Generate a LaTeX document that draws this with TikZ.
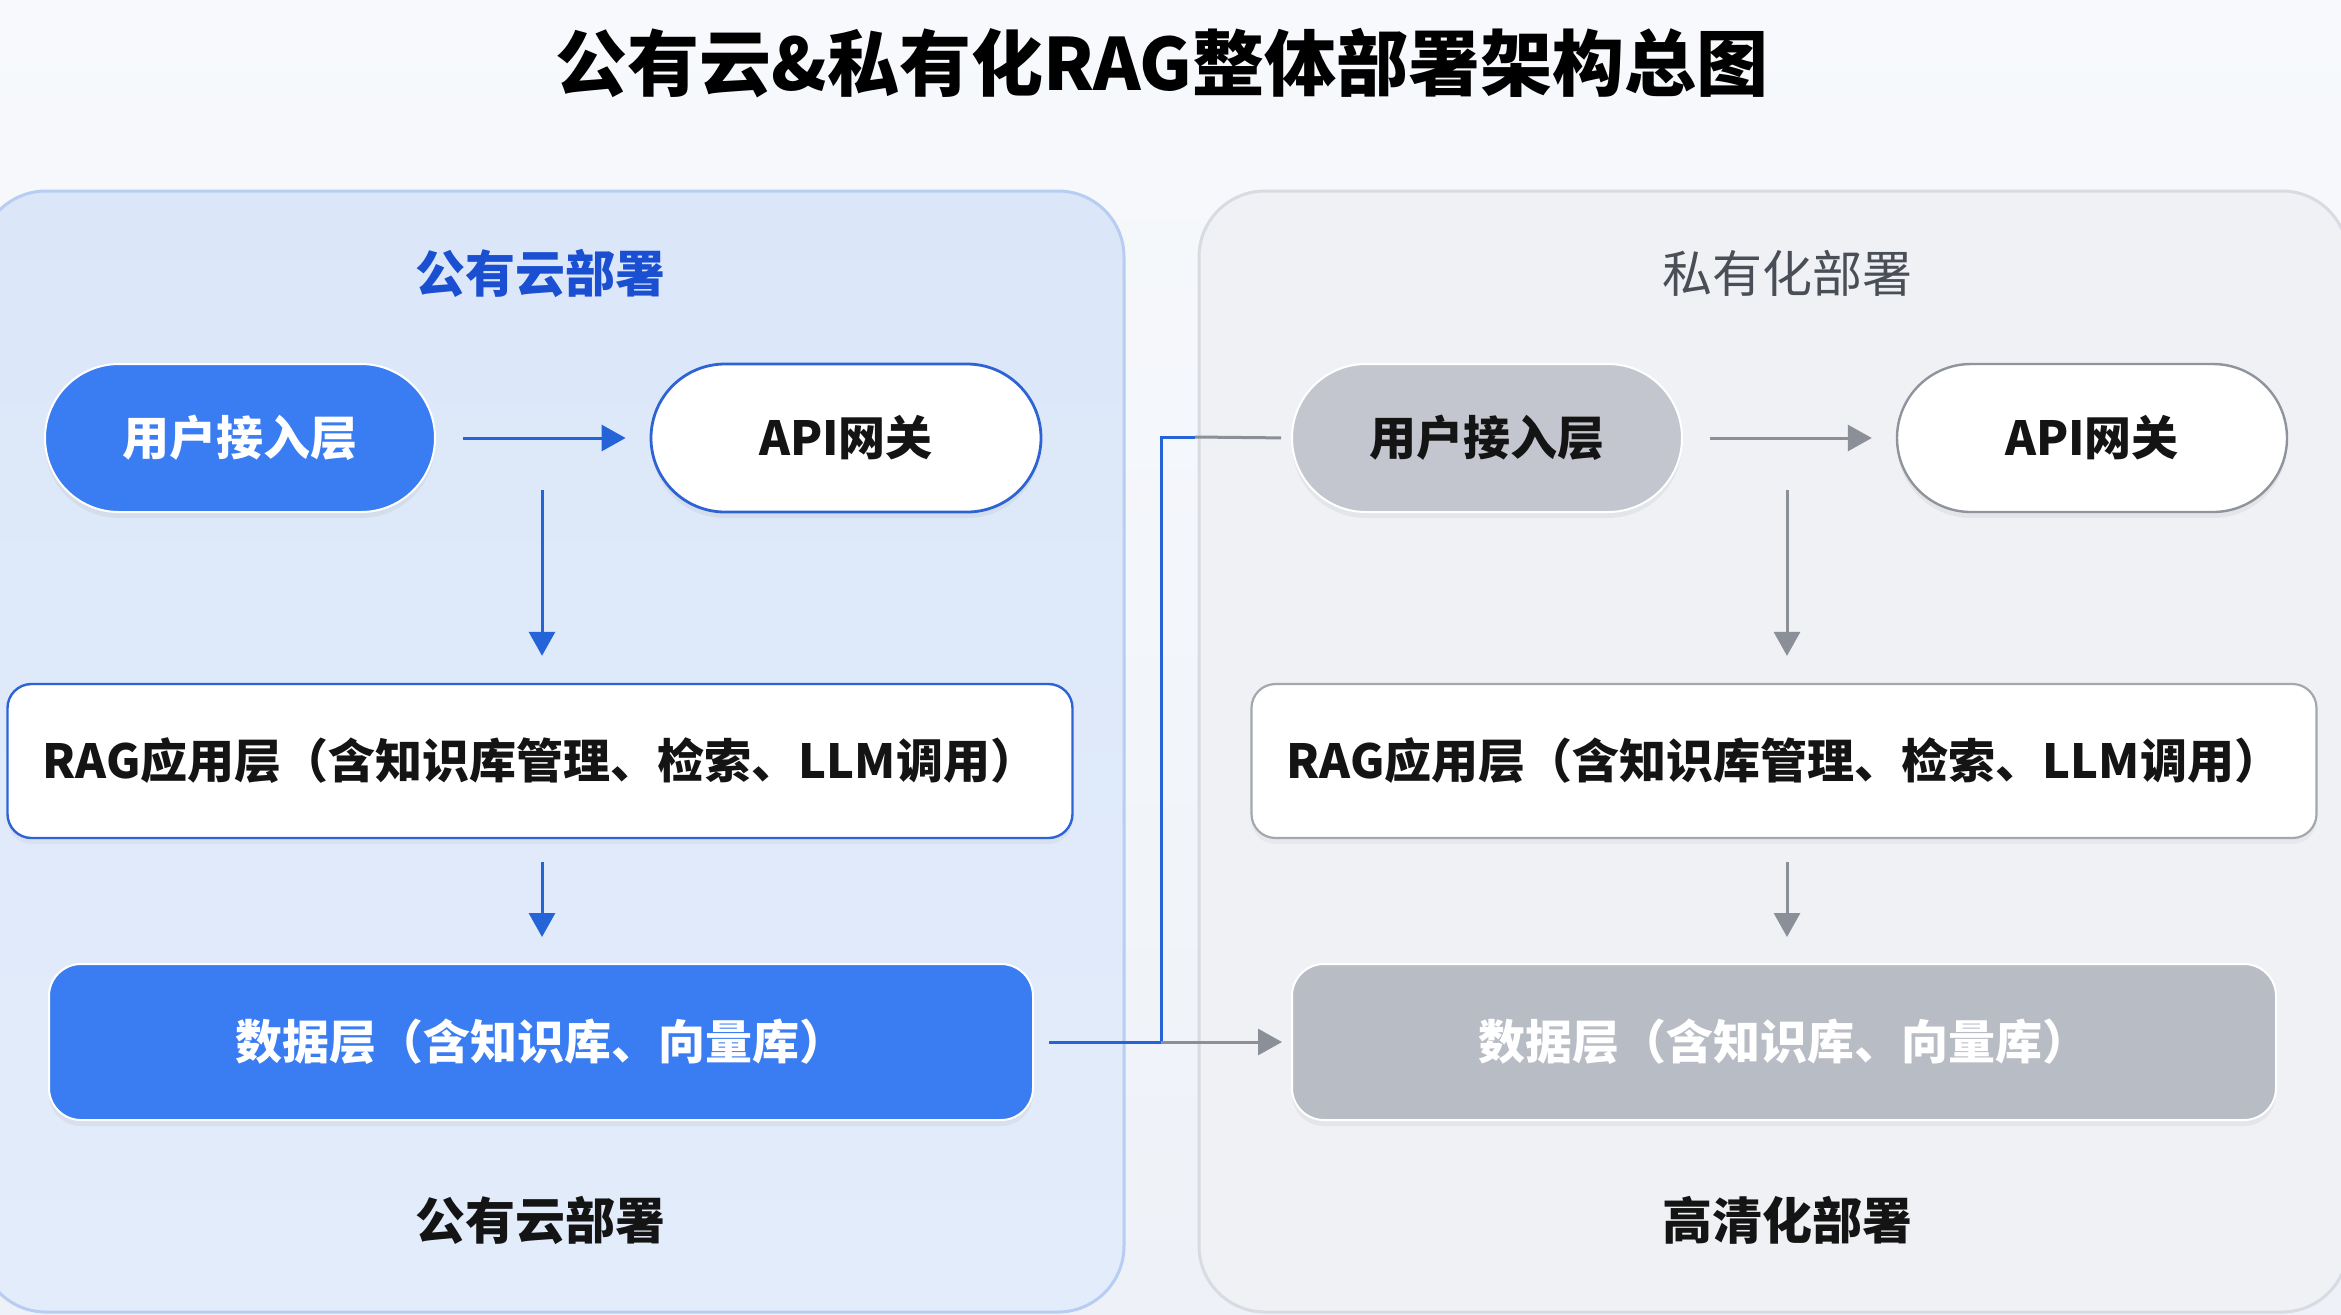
\documentclass[tikz,border=0pt]{standalone}
\usepackage{fontspec}
\setmainfont{Noto Sans CJK SC}
\usetikzlibrary{arrows.meta,calc,shadows}
\definecolor{bgA}{HTML}{F7F9FC}
\definecolor{bgB}{HTML}{EEF2F8}
\definecolor{panLfill}{HTML}{DBE7F9}
\definecolor{panLfillB}{HTML}{E3ECFA}
\definecolor{panLline}{HTML}{B7CDF2}
\definecolor{panRfill}{HTML}{EFF1F5}
\definecolor{panRline}{HTML}{D8DBE1}
\definecolor{blueFill}{HTML}{3A7CF1}
\definecolor{blueLine}{HTML}{2E63D6}
\definecolor{blueArrow}{HTML}{2563D9}
\definecolor{blueHead}{HTML}{1B4FD1}
\definecolor{grayPill}{HTML}{C3C6CE}
\definecolor{grayData}{HTML}{B8BCC5}
\definecolor{grayLine}{HTML}{8F949C}
\definecolor{grayLineB}{HTML}{A3A7AE}
\definecolor{grayArrow}{HTML}{8A8F98}
\definecolor{grayHead}{HTML}{4A4E56}
\definecolor{inkC}{HTML}{141414}
\tikzset{
  nodetext/.style={font=\fontsize{23.5pt}{26pt}\selectfont\bfseries, inner sep=0pt, align=center},
  pill/.style={nodetext, rectangle, rounded corners=37pt, minimum width=195pt, minimum height=74pt,
    drop shadow={opacity=0.10, shadow xshift=0pt, shadow yshift=-3pt}},
  widebox/.style={nodetext, rectangle, rounded corners=12pt, minimum width=532.5pt, minimum height=77pt,
    drop shadow={opacity=0.08, shadow xshift=0pt, shadow yshift=-3pt}},
  databox/.style={nodetext, rectangle, rounded corners=16pt, minimum width=492pt, minimum height=78pt,
    drop shadow={opacity=0.10, shadow xshift=0pt, shadow yshift=-3pt}},
  barrow/.style={draw=blueArrow, line width=1.5pt, -{Triangle[length=12pt,width=13pt]}},
  garrow/.style={draw=grayArrow, line width=1.5pt, -{Triangle[length=12pt,width=13pt]}},
  heading/.style={font=\fontsize{25pt}{28pt}\selectfont\bfseries, inner sep=0pt},
}
\begin{document}
\begin{tikzpicture}[x=0.5pt, y=-0.5pt]
\useasboundingbox (0,0) rectangle (2341,1314);
\begin{scope}
\clip (0,0) rectangle (2341,1314);
% background
\shade[top color=bgA, bottom color=bgB] (0,0) rectangle (2341,1314);
% panels
\path[draw=panLline, line width=1.5pt, top color=panLfill, bottom color=panLfillB, rounded corners=33pt]
  (-20,191) rectangle (1124,1312);
\path[draw=panRline, line width=1.5pt, fill=panRfill, rounded corners=33pt]
  (1199,191) rectangle (2348,1312);
\end{scope}

% title
\node[font=\fontsize{36pt}{40pt}\selectfont\bfseries, text=black, inner sep=0pt] (title) at (1162,63) {公有云\&私有化RAG整体部署架构总图};

% headings
\node[heading, text=blueHead] (headL) at (540,273) {公有云部署};
\node[font=\fontsize{25pt}{28pt}\selectfont, inner sep=0pt, text=grayHead] (headR) at (1787,273) {私有化部署};

% left column
\node[pill, fill=blueFill, draw=white, line width=1pt, text=white] (userL) at (240,438) {用户接入层};
\node[pill, fill=white, draw=blueLine, line width=1.4pt, text=inkC] (apiL) at (846,438) {API网关};
\node[widebox, fill=white, draw=blueLine, line width=1.2pt, text=inkC] (ragL) at (540,761) {RAG应用层（含知识库管理、检索、LLM调用）};
\node[databox, fill=blueFill, draw=white, line width=1pt, text=white] (dataL) at (541,1042) {数据层（含知识库、向量库）};

% right column
\node[pill, fill=grayPill, draw=white, line width=1pt, text=inkC] (userR) at (1487,438) {用户接入层};
\node[pill, fill=white, draw=grayLine, line width=1.2pt, text=inkC] (apiR) at (2092,438) {API网关};
\node[widebox, fill=white, draw=grayLineB, line width=1.1pt, text=inkC] (ragR) at (1784,761) {RAG应用层（含知识库管理、检索、LLM调用）};
\node[databox, fill=grayData, draw=white, line width=1pt, text=white] (dataR) at (1784,1042) {数据层（含知识库、向量库）};

% bottom labels
\node[heading, text=inkC] (footL) at (540,1220) {公有云部署};
\node[heading, text=inkC] (footR) at (1787,1220) {高清化部署};

% left arrows
\draw[barrow, shorten <=13.5pt, shorten >=12pt] (userL.east) -- (apiL.west);
\coordinate (splitL) at (542,490);
\draw[barrow, shorten >=13.5pt] (splitL) -- (splitL |- ragL.north);
\draw[barrow, shorten <=11.5pt, shorten >=13pt] (ragL.south -| splitL) -- (dataL.north -| splitL);

% right arrows
\draw[garrow, shorten <=13.5pt, shorten >=12pt] (userR.east) -- (apiR.west);
\coordinate (splitR) at (1787,490);
\draw[garrow, shorten >=13.5pt] (splitR) -- (splitR |- ragR.north);
\draw[garrow, shorten <=11.5pt, shorten >=13pt] (ragR.south -| splitR) -- (dataR.north -| splitR);

% cross connector
\coordinate (bendB) at (1161,1042);
\coordinate (bendT) at (1161,437);
\coordinate (joinT) at (1195,437);
\draw[draw=blueArrow, line width=1.5pt, shorten <=7.5pt] (dataL.east) -- (bendB) -- (bendT) -- (joinT);
\draw[draw=grayArrow, line width=1.5pt, shorten >=5pt] (joinT) -- (userR.west);
\draw[garrow, shorten >=4.5pt] (bendB) -- (dataR.west);
\end{tikzpicture}
\end{document}
